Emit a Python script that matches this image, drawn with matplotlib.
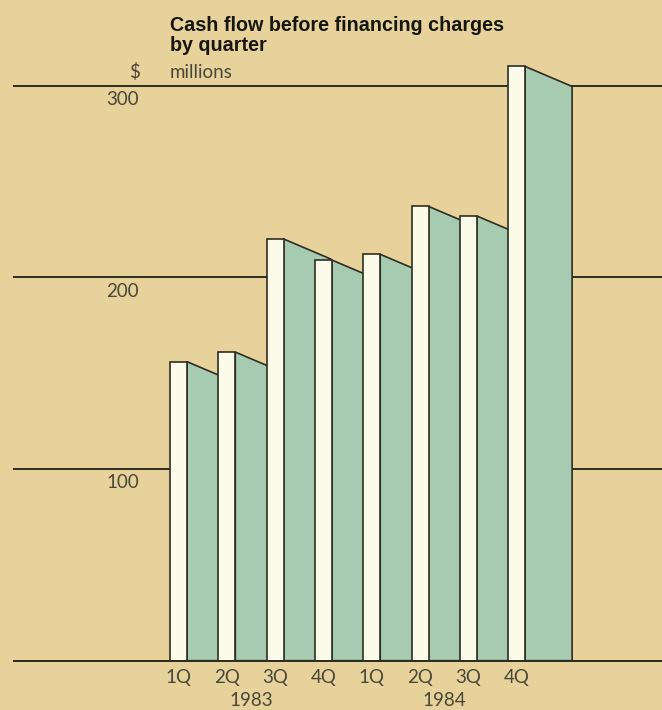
import matplotlib
matplotlib.use("Agg")
import matplotlib.pyplot as plt
from matplotlib.patches import Polygon

# ---- data ----
quarters = ['1Q', '2Q', '3Q', '4Q', '1Q', '2Q', '3Q', '4Q']
years = ['1983', '1984']
values = [156, 161, 220, 209, 212, 237, 232, 310]
grid_values = [100, 200, 300]
grid_labels = ['100', '200', '300']
title_lines = ['Cash flow before financing charges', 'by quarter']

# ---- layout (pixel based) ----
W, H = 662, 710
PX_X = 48.3      # px per bar slot
X0 = 170.0       # px left edge of first bar front
PX_Y = 1.917     # px per $ million
Y0 = 660.7       # px of zero line
FRONT_W = 17 / PX_X
DEPTH = 47 / PX_X
DROP = 20 / PX_Y

bg = '#e8d29b'
green = '#a7cbb0'
cream = '#fcfae8'
edge = '#2e2d22'
txt = '#48473a'

fig = plt.figure(figsize=(W / 100, H / 100), dpi=100)
fig.patch.set_facecolor(bg)
ax = fig.add_axes([0, 0, 1, 1])
ax.set_facecolor(bg)
ax.axis('off')
ax.set_xlim(-X0 / PX_X, (W - X0) / PX_X)
ax.set_ylim((Y0 - H) / PX_Y, Y0 / PX_Y)

def px2x(p):
    return (p - X0) / PX_X

# grid lines (behind bars)
ax.hlines([0] + grid_values, px2x(13), px2x(W + 5), colors=edge, lw=1.4, zorder=1)

# bars
for i, v in enumerate(values):
    z = 2 + i
    front = Polygon([(i, 0), (i, v), (i + FRONT_W, v), (i + FRONT_W, 0)],
                    closed=True, facecolor=cream, edgecolor=edge, lw=1.2,
                    joinstyle='miter', zorder=z + 0.1)
    side = Polygon([(i + FRONT_W, 0), (i + FRONT_W, v),
                    (i + FRONT_W + DEPTH, v - DROP), (i + FRONT_W + DEPTH, 0)],
                   closed=True, facecolor=green, edgecolor=edge, lw=1.2,
                   joinstyle='miter', zorder=z)
    ax.add_patch(side)
    ax.add_patch(front)

# baseline on top of bars
ax.hlines([0], px2x(13), px2x(W + 5), colors=edge, lw=1.4, zorder=20)

lab_font = dict(family=['Lato', 'DejaVu Sans'], fontweight='normal', color=txt, fontsize=13.5)

# y labels
for gv, gl in zip(grid_values, grid_labels):
    ax.text(px2x(139), gv - 7.2, gl, ha='right', va='center', **lab_font)

# quarter labels
for i, q in enumerate(quarters):
    ax.text(i + FRONT_W / 2, (Y0 - 677) / PX_Y, q, ha='center', va='center', **lab_font)
for k, y in enumerate(years):
    xc = 4 * k + 1.5 + FRONT_W / 2
    ax.text(xc, (Y0 - 701) / PX_Y, y, ha='center', va='center', **lab_font)

# unit labels
ax.text(px2x(140), (Y0 - 78) / PX_Y, '$', ha='right', va='baseline', **lab_font)
ax.text(0, (Y0 - 78) / PX_Y, 'millions', ha='left', va='baseline', **lab_font)

# title
for k, line in enumerate(title_lines):
    fig.text(X0 / W, 1 - (31 + 20 * k) / H, line, ha='left', va='baseline',
             family=['Liberation Sans', 'DejaVu Sans'], fontweight='bold',
             fontsize=14.2, color='#16150f')

fig.savefig('out.png', dpi=100, facecolor=bg)
